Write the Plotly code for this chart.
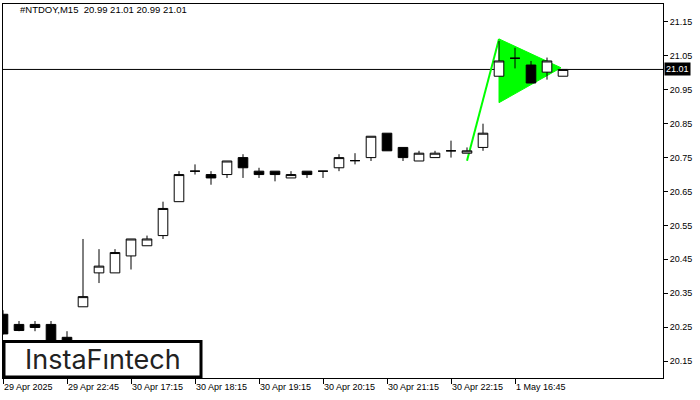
import plotly.graph_objects as go

# ---- data ----
bar_index = list(range(36))
opens = [20.288, 20.258, 20.258, 20.258, 20.22, 20.31, 20.41, 20.41, 20.46, 20.49,
         20.52, 20.62, 20.71, 20.70, 20.70, 20.75, 20.71, 20.71, 20.69, 20.71,
         20.71, 20.72, 20.741, 20.75, 20.822, 20.78, 20.74, 20.75, 20.77, 20.763,
         20.78, 20.99, 21.043, 21.023, 21.002, 20.99]
highs = [20.30, 20.268, 20.268, 20.268, 20.238, 20.51, 20.48, 20.48, 20.51, 20.52,
         20.62, 20.71, 20.73, 20.71, 20.74, 20.76, 20.72, 20.71, 20.71, 20.71,
         20.71, 20.76, 20.763, 20.813, 20.822, 20.78, 20.77, 20.77, 20.80, 20.78,
         20.85, 21.094, 21.074, 21.035, 21.045, 21.01]
lows = [20.228, 20.238, 20.238, 20.19, 20.18, 20.31, 20.38, 20.41, 20.42, 20.49,
        20.51, 20.62, 20.70, 20.67, 20.69, 20.69, 20.69, 20.68, 20.69, 20.69,
        20.69, 20.71, 20.73, 20.74, 20.77, 20.74, 20.74, 20.75, 20.75, 20.763,
        20.77, 20.99, 21.013, 20.97, 20.98, 20.99]
closes = [20.23, 20.24, 20.249, 20.20, 20.20, 20.34, 20.43, 20.47, 20.51, 20.51,
          20.60, 20.70, 20.71, 20.69, 20.74, 20.72, 20.70, 20.70, 20.70, 20.70,
          20.71, 20.75, 20.741, 20.813, 20.77, 20.75, 20.763, 20.763, 20.77, 20.77,
          20.822, 21.035, 21.043, 20.97, 21.035, 21.01]

tick_index = [0, 4, 8, 12, 16, 20, 24, 28, 32]
tick_labels = ["29 Apr 2025", "29 Apr 22:45", "30 Apr 17:15", "30 Apr 18:15",
               "30 Apr 19:15", "30 Apr 20:15", "30 Apr 21:15", "30 Apr 22:15",
               "1 May 16:45"]
price_ticks = [20.15, 20.25, 20.35, 20.45, 20.55, 20.65, 20.75, 20.85, 20.95, 21.05, 21.15]

pole_x = [29, 31]
pole_y = [20.741, 21.10]
flag_x = [31, 31, 34.875]
flag_y = [21.10, 20.912, 21.015]

last_price = 21.01
title_text = "#NTDOY,M15  20.99 21.01 20.99 21.01"

GREEN = "#00ff00"
FONT = "Liberation Sans"

fig = go.Figure()

fig.add_trace(go.Candlestick(
    x=bar_index, open=opens, high=highs, low=lows, close=closes,
    increasing=dict(line=dict(color="black", width=1), fillcolor="white"),
    decreasing=dict(line=dict(color="black", width=1), fillcolor="black"),
    whiskerwidth=0, showlegend=False, hoverinfo="skip"))

# pennant (below the candles)
flag_path = "M " + " L ".join(f"{x},{y}" for x, y in zip(flag_x, flag_y)) + " Z"
fig.add_shape(type="path", xref="x", yref="y", path=flag_path,
              fillcolor=GREEN, line=dict(color=GREEN, width=1), layer="below")
fig.add_shape(type="line", xref="x", yref="y",
              x0=pole_x[0], y0=pole_y[0], x1=pole_x[1], y1=pole_y[1],
              line=dict(color=GREEN, width=2), layer="below")
# last price line
fig.add_shape(type="line", xref="paper", yref="y", x0=0, x1=1,
              y0=last_price, y1=last_price,
              line=dict(color="black", width=1), layer="below")

fig.update_layout(
    width=700, height=400,
    margin=dict(l=3, r=37, t=4, b=22),
    paper_bgcolor="white", plot_bgcolor="white",
    font=dict(family=FONT, size=9, color="black"),
    boxgap=0.4, boxgroupgap=0,
    xaxis=dict(range=[0, 41.25], tickvals=tick_index, ticktext=tick_labels,
               ticks="outside", ticklen=5, tickcolor="black",
               ticklabelposition="outside right",
               showgrid=False, zeroline=False,
               showline=True, linecolor="black", linewidth=1, mirror=True,
               rangeslider=dict(visible=False), fixedrange=True),
    yaxis=dict(range=[20.100, 21.203], side="right", tickvals=price_ticks,
               tickformat=".2f", ticks="outside", ticklen=4, tickcolor="black",
               showgrid=False, zeroline=False,
               showline=True, linecolor="black", linewidth=1, mirror=True,
               fixedrange=True),
)

# title text in the top-left corner
fig.add_annotation(x=0.0227, y=0.984, xref="paper", yref="paper",
                   xanchor="left", yanchor="middle", showarrow=False,
                   text=title_text, font=dict(family=FONT, size=9.5, color="black"))

# last price label on the right axis
fig.add_annotation(x=1, y=last_price, xref="paper", yref="y",
                   xanchor="left", yanchor="middle", showarrow=False,
                   xshift=1, text="21.01", bgcolor="black", borderpad=1,
                   font=dict(family=FONT, size=9, color="white"))

# logo box
fig.add_shape(type="rect", xref="paper", yref="paper",
              x0=0.0015, x1=0.3, y0=0.0027, y1=0.0976,
              line=dict(color="black", width=3), fillcolor="white", layer="above")
fig.add_annotation(x=0.1508, y=0.0508, xref="paper", yref="paper",
                   xanchor="center", yanchor="middle", showarrow=False,
                   text="InstaF\u0131ntech",
                   font=dict(family="Inter", size=27, color="#222222"))

fig.write_html("out.html", config={"displayModeBar": False},
               post_script="document.body.style.margin='0';document.body.style.overflow='hidden';")
